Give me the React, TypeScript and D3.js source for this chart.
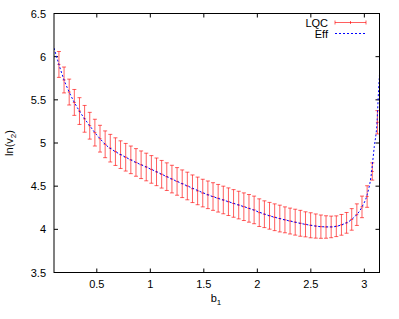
import React from 'react';
import * as d3 from 'd3';

// LQC points: b1, ln(v2), error
const lqcB = [0.146, 0.194, 0.242, 0.29, 0.338, 0.386, 0.434, 0.482, 0.53, 0.578,
  0.626, 0.674, 0.722, 0.77, 0.818, 0.866, 0.914, 0.962, 1.01, 1.058,
  1.106, 1.154, 1.202, 1.25, 1.298, 1.346, 1.394, 1.442, 1.49, 1.538,
  1.586, 1.634, 1.682, 1.73, 1.778, 1.826, 1.874, 1.922, 1.97, 2.018,
  2.066, 2.114, 2.162, 2.21, 2.258, 2.306, 2.354, 2.402, 2.45, 2.498,
  2.546, 2.594, 2.642, 2.69, 2.738, 2.786, 2.834, 2.882, 2.93, 2.978,
  3.026, 3.074, 3.122];
const lqcV = [5.91, 5.73, 5.59, 5.47, 5.37, 5.28, 5.2, 5.12, 5.05, 4.985,
  4.94, 4.9, 4.865, 4.835, 4.805, 4.775, 4.748, 4.722, 4.694, 4.666,
  4.638, 4.61, 4.582, 4.555, 4.528, 4.502, 4.47, 4.445, 4.42, 4.4,
  4.38, 4.36, 4.34, 4.32, 4.3, 4.281, 4.262, 4.243, 4.225, 4.193,
  4.175, 4.157, 4.14, 4.125, 4.11, 4.096, 4.083, 4.07, 4.058, 4.047,
  4.038, 4.031, 4.027, 4.028, 4.036, 4.052, 4.075, 4.115, 4.17, 4.26,
  4.38, 4.67, 5.24];
const lqcE = [0.15, 0.15, 0.15, 0.15, 0.155, 0.155, 0.155, 0.155, 0.155, 0.155,
  0.16, 0.16, 0.16, 0.16, 0.16, 0.16, 0.16, 0.16, 0.16, 0.16,
  0.16, 0.16, 0.16, 0.16, 0.16, 0.16, 0.16, 0.16, 0.16, 0.16,
  0.16, 0.16, 0.16, 0.16, 0.16, 0.16, 0.16, 0.16, 0.16, 0.16,
  0.155, 0.155, 0.155, 0.155, 0.15, 0.15, 0.15, 0.15, 0.145, 0.145,
  0.14, 0.135, 0.13, 0.125, 0.12, 0.12, 0.12, 0.125, 0.125, 0.125,
  0.125, 0.1, 0.135];

// Eff curve
const effB = [0.1, 0.146, 0.194, 0.242, 0.29, 0.338, 0.386, 0.434, 0.482, 0.53,
  0.578, 0.674, 0.77, 0.866, 0.962, 1.106, 1.25, 1.394, 1.538, 1.73,
  1.922, 2.114, 2.306, 2.498, 2.594, 2.69, 2.786, 2.882, 2.978, 3.026,
  3.062, 3.093, 3.118, 3.133, 3.142];
const effV = [6.1, 5.91, 5.73, 5.59, 5.47, 5.37, 5.28, 5.2, 5.12, 5.05,
  4.985, 4.9, 4.835, 4.775, 4.722, 4.638, 4.555, 4.477, 4.4, 4.32,
  4.243, 4.157, 4.096, 4.047, 4.031, 4.028, 4.052, 4.115, 4.26, 4.4,
  4.61, 4.96, 5.23, 5.61, 5.8];

const xTicks = [0.5, 1, 1.5, 2, 2.5, 3];
const yTicks = [3.5, 4, 4.5, 5, 5.5, 6, 6.5];

const W = 399, H = 319;
const left = 54, right = 379.5, top = 13.5, bottom = 272.5;
const font = 'Liberation Sans, Arial, sans-serif';

export default function App() {
  const x = d3.scaleLinear().domain([0.1, Math.PI]).range([left, right]);
  const y = d3.scaleLinear().domain([3.5, 6.5]).range([bottom, top]);

  const effLine = d3.line<number>()
    .x((d, i) => x(effB[i]))
    .y(d => y(d))
    .curve(d3.curveMonotoneX)(effV);

  const tl = 4; // tick length
  const cap = 2;

  return (
    <svg width={W} height={H} style={{position: 'absolute', left: 0, top: 0, background: '#fff'}}
      fontFamily={font} fontSize={11}>
      <defs>
        <clipPath id="plot">
          <rect x={left} y={top} width={right - left} height={bottom - top} />
        </clipPath>
      </defs>

      {/* ticks */}
      {xTicks.map(t => (
        <g key={'x' + t}>
          <line x1={x(t)} x2={x(t)} y1={bottom} y2={bottom - tl} stroke="#000" />
          <line x1={x(t)} x2={x(t)} y1={top} y2={top + tl} stroke="#000" />
          <text x={x(t)} y={288} textAnchor="middle">{t}</text>
        </g>
      ))}
      {yTicks.map(t => (
        <g key={'y' + t}>
          <line x1={left} x2={left + tl} y1={y(t)} y2={y(t)} stroke="#000" />
          <line x1={right} x2={right - tl} y1={y(t)} y2={y(t)} stroke="#000" />
          <text x={46} y={y(t) + 4} textAnchor="end">{t}</text>
        </g>
      ))}

      {/* data */}
      <g clipPath="url(#plot)">
        {lqcB.map((b, i) => {
          const cx = x(b);
          const y1 = y(lqcV[i] + lqcE[i]);
          const y2 = y(lqcV[i] - lqcE[i]);
          const cy = y(lqcV[i]);
          return (
            <g key={'e' + i} stroke="#ff0000" strokeWidth={0.9} strokeOpacity={0.7}>
              <line x1={cx} x2={cx} y1={y1} y2={y2} />
              <line x1={cx - cap} x2={cx + cap} y1={y1} y2={y1} />
              <line x1={cx - cap} x2={cx + cap} y1={y2} y2={y2} />
              <line x1={cx - 1.5} x2={cx + 1.5} y1={cy} y2={cy} />
            </g>
          );
        })}
        <path d={effLine || ''} fill="none" stroke="#0000ff" strokeWidth={1} strokeDasharray="2,2" />
      </g>

      {/* border */}
      <rect x={left} y={top} width={right - left} height={bottom - top} fill="none" stroke="#000" />

      {/* axis labels */}
      <text x={216} y={302} textAnchor="middle">b<tspan fontSize={8} dy={3}>1</tspan></text>
      <text transform={`translate(13,${(top + bottom) / 2}) rotate(-90)`} textAnchor="middle">
        ln(v<tspan fontSize={8} dy={3}>2</tspan><tspan dy={-3}>)</tspan>
      </text>

      {/* legend */}
      <text x={328} y={26.5} textAnchor="end">LQC</text>
      <g stroke="#ff0000" strokeOpacity={0.7} strokeWidth={0.9}>
        <line x1={335} x2={366} y1={22.5} y2={22.5} />
        <line x1={335} x2={335} y1={20.5} y2={24.5} />
        <line x1={366} x2={366} y1={20.5} y2={24.5} />
        <line x1={350.5} x2={350.5} y1={21} y2={24} />
      </g>
      <text x={328} y={37.5} textAnchor="end">Eff</text>
      <line x1={335} x2={366} y1={33.5} y2={33.5} stroke="#0000ff" strokeDasharray="2,2" />
    </svg>
  );
}
